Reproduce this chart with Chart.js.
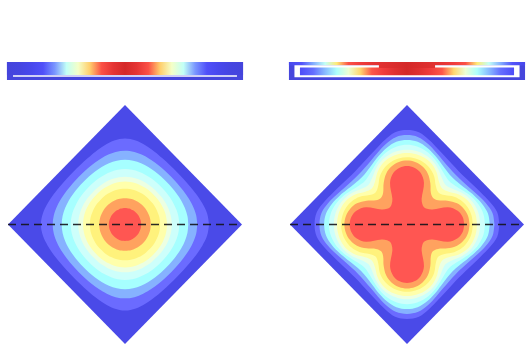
<!DOCTYPE html>
<html><head><meta charset="utf-8">
<script src="https://cdn.jsdelivr.net/npm/chart.js@4/dist/chart.umd.min.js"></script>
<style>
html,body{margin:0;padding:0;background:#fff;overflow:hidden}
#wrap{position:relative;width:532px;height:352px}
canvas{position:absolute;top:0}
</style></head><body>
<div id="wrap">
<canvas id="cl" width="266" height="352" style="left:0"></canvas>
<canvas id="cr" width="266" height="352" style="left:266px"></canvas>
</div>
<script>
// ---------- DATA ----------
// contour radius (diamond vertex = 1) sampled at these polar angles; 8-fold symmetric
const angleSteps = [0, 7.5, 15, 22.5, 30, 37.5, 45];
const leftContours = [
  [0.719, 0.708, 0.684, 0.660, 0.640, 0.628, 0.624],
  [0.618, 0.613, 0.600, 0.585, 0.572, 0.564, 0.561],
  [0.541, 0.538, 0.530, 0.521, 0.512, 0.506, 0.504],
  [0.464, 0.462, 0.457, 0.451, 0.446, 0.442, 0.441],
  [0.400, 0.399, 0.396, 0.393, 0.390, 0.387, 0.386],
  [0.359, 0.358, 0.357, 0.354, 0.352, 0.350, 0.349],
  [0.300, 0.300, 0.299, 0.297, 0.296, 0.295, 0.294],
  [0.220, 0.220, 0.220, 0.219, 0.219, 0.219, 0.219],
  [0.138, 0.138, 0.138, 0.137, 0.137, 0.137, 0.137]
];
const rightContours = [
  [0.790, 0.778, 0.732, 0.687, 0.655, 0.635, 0.628],
  [0.748, 0.737, 0.697, 0.652, 0.617, 0.596, 0.588],
  [0.708, 0.698, 0.665, 0.625, 0.588, 0.562, 0.552],
  [0.667, 0.659, 0.635, 0.600, 0.560, 0.527, 0.512],
  [0.626, 0.620, 0.603, 0.575, 0.535, 0.490, 0.468],
  [0.598, 0.593, 0.578, 0.550, 0.505, 0.450, 0.425],
  [0.563, 0.557, 0.540, 0.510, 0.465, 0.405, 0.380],
  [0.535, 0.527, 0.504, 0.463, 0.399, 0.335, 0.315],
  [0.490, 0.480, 0.448, 0.379, 0.250, 0.215, 0.205]
];
// colour strips: normalised value along the strip
const stripPositions = [-1,-0.9,-0.8,-0.7,-0.6,-0.5,-0.4,-0.3,-0.2,-0.1,0,0.1,0.2,0.3,0.4,0.5,0.6,0.7,0.8,0.9,1];
const leftStripValues = [0,0.03,0.1,0.2,0.34,0.5,0.65,0.79,0.9,0.97,1,0.97,0.9,0.79,0.65,0.5,0.34,0.2,0.1,0.03,0];
const rightStripTopValues = [0.1,0.22,0.36,0.5,0.76,0.9,0.95,0.97,0.98,0.99,1,0.99,0.98,0.97,0.95,0.9,0.76,0.5,0.36,0.22,0.1];
const rightStripInnerValues = [0.1,0.2,0.3,0.37,0.45,0.62,0.78,0.89,0.95,0.98,1,0.98,0.95,0.89,0.78,0.62,0.45,0.37,0.3,0.2,0.1];
const dashedLineX = [-1, 1];

// ---------- STYLE ----------
const bandColors = ['#4a4ae8','#6b6bff','#86b2ff','#a6ffff','#cdfffb','#ecffe2','#ffffab','#fff27c','#ffa25f','#ff5652'];
const cmapStops = [[0,'#4444dc'],[0.15,'#4a4af5'],[0.28,'#5a5aff'],[0.35,'#7fa0ff'],[0.42,'#a0ffff'],[0.55,'#d8fff0'],[0.65,'#f4ffc8'],[0.74,'#ffff80'],[0.82,'#ffb060'],[0.88,'#ff5a4a'],[0.95,'#f03c3c'],[1,'#d42828']];
const frameBlue = '#4646dc';

function hex(c){return [1,3,5].map(i=>parseInt(c.substr(i,2),16));}
function cmap(v){
  for(let i=1;i<cmapStops.length;i++){
    const [v1,c1]=cmapStops[i];
    if(v<=v1){const [v0,c0]=cmapStops[i-1];const t=(v-v0)/(v1-v0);const a=hex(c0),b=hex(c1);
      return 'rgb('+a.map((x,k)=>Math.round(x+(b[k]-x)*t)).join(',')+')';}
  }
  return cmapStops[cmapStops.length-1][1];
}
function gradientFor(values){
  return function(c){
    const chart=c.chart; if(!chart.chartArea) return frameBlue;
    const xs=chart.scales.x;
    const x0=xs.getPixelForValue(stripPositions[0]), x1=xs.getPixelForValue(stripPositions[stripPositions.length-1]);
    const g=chart.ctx.createLinearGradient(x0,0,x1,0);
    stripPositions.forEach((p,i)=>g.addColorStop((p-stripPositions[0])/(stripPositions[stripPositions.length-1]-stripPositions[0]),cmap(values[i])));
    return g;
  };
}
function contourPoints(radii){
  const oct=angleSteps.map((a,i)=>({a,r:radii[i]}));
  const quarter=oct.concat(oct.slice(0,-1).reverse().map(p=>({a:90-p.a,r:p.r})));
  const pts=[];
  for(let q=0;q<4;q++) quarter.slice(0,-1).forEach(p=>{const t=(p.a+90*q)*Math.PI/180;pts.push({x:p.r*Math.cos(t),y:p.r*Math.sin(t)});});
  pts.push(Object.assign({},pts[0]));
  return pts;
}
function rect(x0,x1,y0,y1){return [{x:x0,y:y0},{x:x1,y:y0},{x:x1,y:y1},{x:x0,y:y1},{x:x0,y:y0}];}
function shape(points,fillColor,tension){
  return {data:points,showLine:true,fill:'shape',backgroundColor:fillColor,borderColor:'rgba(0,0,0,0)',borderWidth:0,pointRadius:0,tension:tension||0};
}
function strokeLine(points,color,width,dash){
  return {data:points,showLine:true,fill:false,borderColor:color,borderWidth:width,borderDash:dash||[],pointRadius:0,tension:0};
}

// layout (data units; y of strips above the diamond)
const SX = 1.009;
function panelDatasets(contours,isRight){
  const ds=[];
  ds.push(shape(rect(-SX,SX,1.209,1.360),frameBlue));
  if(!isRight){
    ds.push(shape(rect(-SX,SX,1.251,1.360),gradientFor(leftStripValues)));
    ds.push(strokeLine([{x:-0.957,y:1.243},{x:0.957,y:1.243}],'#ffffff',1.6));
  } else {
    ds.push(shape(rect(-SX,SX,1.330,1.360),gradientFor(rightStripTopValues)));
    ds.push(shape(rect(-0.962,0.962,1.232,1.333),'#ffffff'));
    ds.push(shape(rect(-0.915,0.915,1.249,1.314),gradientFor(rightStripInnerValues)));
    ds.push(shape(rect(-0.24,0.24,1.310,1.345),gradientFor(rightStripTopValues)));
  }
  ds.push(shape([{x:1,y:0},{x:0,y:1},{x:-1,y:0},{x:0,y:-1},{x:1,y:0}],bandColors[0]));
  contours.forEach((r,i)=>ds.push(shape(contourPoints(r),bandColors[i+1],0.35)));
  ds.push(strokeLine(dashedLineX.map(x=>({x,y:0})),'rgba(20,20,25,0.9)',1.6,[8,5]));
  return ds.reverse(); // first dataset is drawn on top
}
function makeChart(id,contours,isRight,xmin,xmax){
  new Chart(document.getElementById(id),{
    type:'scatter',
    data:{datasets:panelDatasets(contours,isRight)},
    options:{responsive:false,maintainAspectRatio:false,animation:false,events:[],
      layout:{padding:0},
      plugins:{legend:{display:false},tooltip:{enabled:false}},
      scales:{x:{type:'linear',display:false,min:xmin,max:xmax},
              y:{type:'linear',display:false,min:-1.0669,max:1.8787}}}
  });
}
makeChart('cl',leftContours,false,-1.0684,1.2051);
makeChart('cr',rightContours,true,-1.2051,1.0684);
</script>
</body></html>
